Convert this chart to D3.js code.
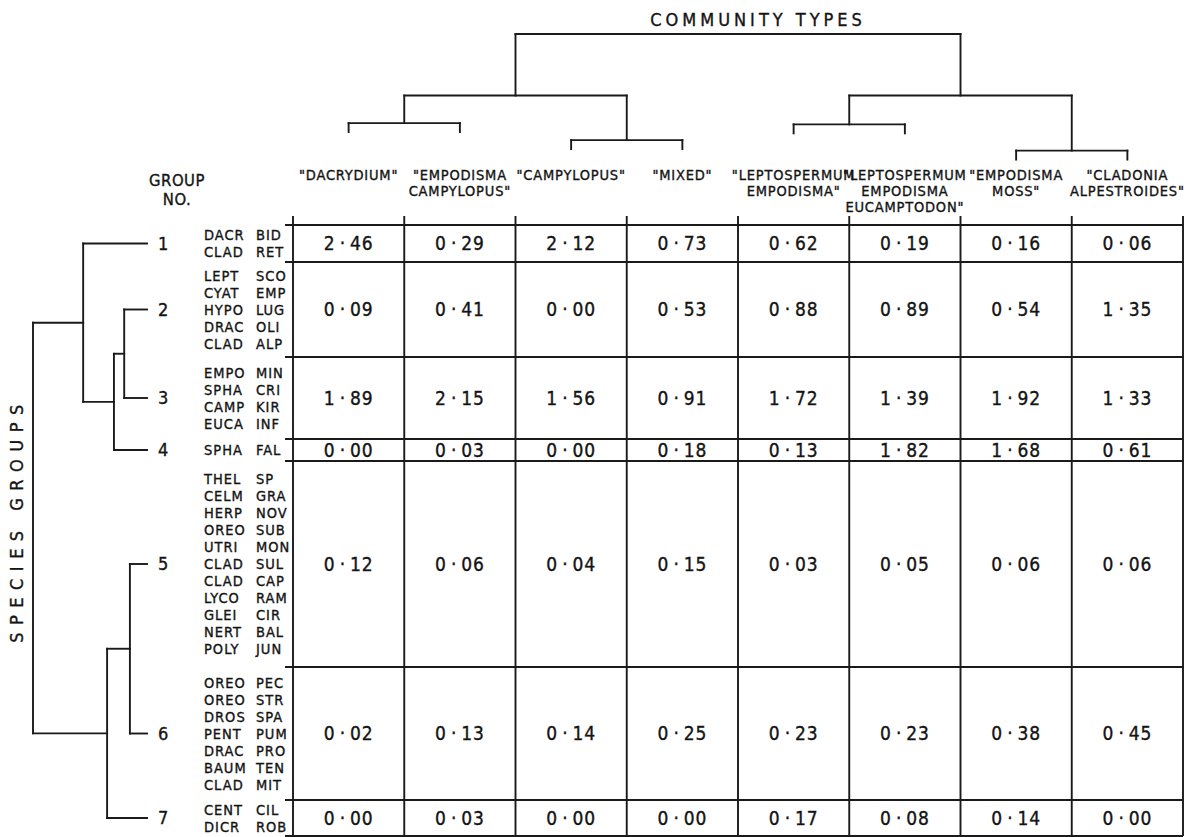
<!DOCTYPE html>
<html>
<head>
<meta charset="utf-8">
<script src="https://cdn.jsdelivr.net/npm/d3@7"></script>
<style>
  html, body { margin: 0; padding: 0; background: #fff; }
  svg { display: block; }
  text {
    font-family: "DejaVu Sans Condensed", "DejaVu Sans", sans-serif;
    font-stretch: condensed;
    fill: #141414; stroke: #141414; stroke-width: 0.35px;
  }
</style>
</head>
<body>
<svg id="chart" width="1201" height="837"></svg>
<script>
// Community types (columns), written as they appear in the header lines
const communityLabels = [
  ['"DACRYDIUM"'],
  ['"EMPODISMA', 'CAMPYLOPUS"'],
  ['"CAMPYLOPUS"'],
  ['"MIXED"'],
  ['"LEPTOSPERMUM', 'EMPODISMA"'],
  ['"LEPTOSPERMUM', 'EMPODISMA', 'EUCAMPTODON"'],
  ['"EMPODISMA', 'MOSS"'],
  ['"CLADONIA', 'ALPESTROIDES"']
];

// Species groups (rows)
const groupNumbers = [1, 2, 3, 4, 5, 6, 7];
const groupSpecies = [
  ['DACR BID', 'CLAD RET'],
  ['LEPT SCO', 'CYAT EMP', 'HYPO LUG', 'DRAC OLI', 'CLAD ALP'],
  ['EMPO MIN', 'SPHA CRI', 'CAMP KIR', 'EUCA INF'],
  ['SPHA FAL'],
  ['THEL SP', 'CELM GRA', 'HERP NOV', 'OREO SUB', 'UTRI MON', 'CLAD SUL',
   'CLAD CAP', 'LYCO RAM', 'GLEI CIR', 'NERT BAL', 'POLY JUN'],
  ['OREO PEC', 'OREO STR', 'DROS SPA', 'PENT PUM', 'DRAC PRO', 'BAUM TEN', 'CLAD MIT'],
  ['CENT CIL', 'DICR ROB']
];

// Mean values of each species group in each community type
const groupValues = [
  [2.46, 0.29, 2.12, 0.73, 0.62, 0.19, 0.16, 0.06],
  [0.09, 0.41, 0.00, 0.53, 0.88, 0.89, 0.54, 1.35],
  [1.89, 2.15, 1.56, 0.91, 1.72, 1.39, 1.92, 1.33],
  [0.00, 0.03, 0.00, 0.18, 0.13, 1.82, 1.68, 0.61],
  [0.12, 0.06, 0.04, 0.15, 0.03, 0.05, 0.06, 0.06],
  [0.02, 0.13, 0.14, 0.25, 0.23, 0.23, 0.38, 0.45],
  [0.00, 0.03, 0.00, 0.00, 0.17, 0.08, 0.14, 0.00]
];

// Classification of the community types: [left, right, fusion level]; leaves are column indices
const communityTree = [[[0, 1, 0.32], [2, 3, 0.19], 0.53], [[4, 5, 0.31], [6, 7, 0.11], 0.53], 1.0];
// Classification of the species groups: leaves are row indices
const groupTree = [[0, [[1, 2, 0.20], 3, 0.29], 0.56], [[4, 5, 0.15], 6, 0.35], 1.0];

const svg = d3.select('#chart');
const ink = '#1a1a1a';
const lineW = 1.9;

// ---- scales ----
const x = d3.scaleBand().domain(d3.range(communityLabels.length)).range([293, 1183]).padding(0);
const counts = groupSpecies.map(s => s.length);
const cum = [0, ...d3.cumsum(counts)];
// species slots -> vertical position (rows have slightly different spacing)
const ySlot = d3.scaleLinear().domain(cum).range([225, 262, 357, 439, 461, 667, 800, 836]);
const rowTop = i => ySlot(cum[i]);
const rowBot = i => ySlot(cum[i + 1]);
const rowMid = i => (rowTop(i) + rowBot(i)) / 2;

const fmt = v => d3.format('.2f')(v).replace('.', '\u2009·\u2009');

// ---- table grid ----
const grid = svg.append('g').attr('stroke', ink).attr('stroke-width', lineW).attr('fill', 'none');
const colEdges = [...x.domain().map(d => x(d)), x.range()[1]];
grid.selectAll('line.v').data(colEdges).join('line')
  .attr('class', 'v')
  .attr('x1', d => d).attr('x2', d => d)
  .attr('y1', rowTop(0) - 9).attr('y2', rowBot(groupSpecies.length - 1));
const rowEdges = [...d3.range(groupSpecies.length).map(rowTop), rowBot(groupSpecies.length - 1)];
grid.selectAll('line.h').data(rowEdges).join('line')
  .attr('class', 'h')
  .attr('x1', x.range()[0] - 8).attr('x2', x.range()[1])
  .attr('y1', d => d).attr('y2', d => d);

// ---- cell values ----
const cells = svg.append('g').attr('letter-spacing', 0.8);
groupValues.forEach((row, i) => {
  cells.selectAll(null).data(row).join('text')
    .attr('x', (d, j) => x(j) + x.bandwidth() / 2)
    .attr('y', rowMid(i))
    .attr('dy', '0.36em')
    .attr('text-anchor', 'middle')
    .attr('font-size', 19)
    .text(d => fmt(d));
});

// ---- column headers ----
const head = svg.append('g');
communityLabels.forEach((lines, j) => {
  head.selectAll(null).data(lines).join('text')
    .attr('x', x(j) + x.bandwidth() / 2)
    .attr('y', (d, k) => 180 + k * 16)
    .attr('text-anchor', 'middle')
    .attr('font-size', 14.5)
    .attr('letter-spacing', 0.8)
    .text(d => d);
});

// ---- species labels ----
const spec = svg.append('g').attr('font-size', 14.5).attr('letter-spacing', 1);
groupSpecies.forEach((list, i) => {
  const step = 17;
  const y0 = rowMid(i) - (list.length - 1) * step / 2;
  const g = spec.selectAll(null).data(list).join('g')
    .attr('transform', (d, k) => `translate(0,${y0 + k * step})`);
  g.append('text').attr('x', 204).attr('dy', '0.36em').text(d => d.split(' ')[0]);
  g.append('text').attr('x', 256).attr('dy', '0.36em').text(d => d.split(' ')[1]);
});

// ---- group numbers and titles ----
svg.append('g').selectAll('text').data(groupNumbers).join('text')
  .attr('x', 158).attr('y', (d, i) => rowMid(i)).attr('dy', '0.36em')
  .attr('font-size', 18).text(d => d);

svg.append('text').attr('x', 177).attr('y', 186).attr('text-anchor', 'middle')
  .attr('font-size', 16.5).attr('letter-spacing', 0.5).text('GROUP');
svg.append('text').attr('x', 177).attr('y', 205).attr('text-anchor', 'middle')
  .attr('font-size', 16.5).attr('letter-spacing', 0.5).text('NO.');

svg.append('text').attr('transform', 'translate(23,520) rotate(-90)')
  .attr('text-anchor', 'middle').attr('font-size', 18).attr('letter-spacing', 7.5)
  .text('SPECIES GROUPS');

svg.append('text').attr('x', 758).attr('y', 26).attr('text-anchor', 'middle')
  .attr('font-size', 18).attr('letter-spacing', 4).text('COMMUNITY TYPES');

// ---- dendrograms ----
const dend = svg.append('g').attr('stroke', ink).attr('stroke-width', lineW).attr('fill', 'none')
  .attr('stroke-linecap', 'square');

// community types: fusion level -> height above the table
const yLevel = d3.scaleLinear().domain([0, 1]).range([165, 34]);
function drawTop(node) {
  if (typeof node === 'number') return { pos: x(node) + x.bandwidth() / 2, leaf: true };
  const kids = [drawTop(node[0]), drawTop(node[1])];
  const y = yLevel(node[2]);
  const pos = (kids[0].pos + kids[1].pos) / 2;
  dend.append('line').attr('x1', kids[0].pos).attr('x2', kids[1].pos).attr('y1', y).attr('y2', y);
  kids.forEach(k => {
    dend.append('line').attr('x1', k.pos).attr('x2', k.pos)
      .attr('y1', y).attr('y2', k.leaf ? y + 9 : k.y);
  });
  return { pos, y, leaf: false };
}
drawTop(communityTree);

// species groups: fusion level -> distance left of the group numbers
const xLevel = d3.scaleLinear().domain([0, 1]).range([147, 33]);
function drawLeft(node) {
  if (typeof node === 'number') return { pos: rowMid(node), leaf: true };
  const kids = [drawLeft(node[0]), drawLeft(node[1])];
  const xx = xLevel(node[2]);
  const pos = (kids[0].pos + kids[1].pos) / 2;
  dend.append('line').attr('x1', xx).attr('x2', xx).attr('y1', kids[0].pos).attr('y2', kids[1].pos);
  kids.forEach(k => {
    dend.append('line').attr('x1', xx).attr('x2', k.leaf ? xLevel(0) : k.x)
      .attr('y1', k.pos).attr('y2', k.pos);
  });
  return { pos, x: xx, leaf: false };
}
drawLeft(groupTree);
</script>
</body>
</html>
